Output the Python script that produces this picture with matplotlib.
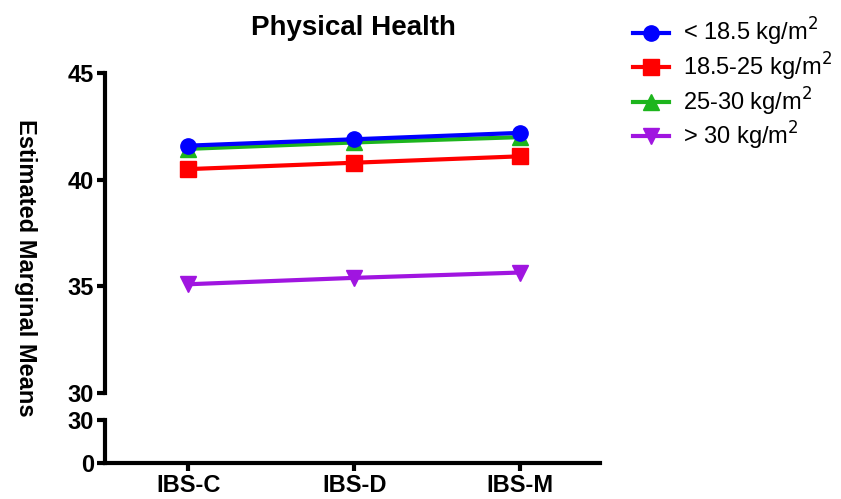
import matplotlib.pyplot as plt
import numpy as np

plt.rcParams['font.family'] = ['Liberation Sans', 'DejaVu Sans']

groups = ['IBS-C', 'IBS-D', 'IBS-M']
under185 = [41.6, 41.9, 42.2]
normal = [40.5, 40.8, 41.1]
over25 = [41.45, 41.75, 42.0]
over30 = [35.1, 35.4, 35.65]

labels = [r'< 18.5 kg/m$^2$', r'18.5-25 kg/m$^2$', r'25-30 kg/m$^2$', r'> 30 kg/m$^2$']
colors = ['#0000FF', '#FF0000', '#1DB51D', '#A015E0']
markers = ['o', 's', '^', 'v']
msizes = [11, 12, 12, 12]
series = [under185, normal, over25, over30]
zorders = [6, 4, 5, 3]

fig = plt.figure(figsize=(8.41, 4.99), dpi=100)
ax = fig.add_axes([0.1249, 0.2124, 0.5886, 0.641])
ax2 = fig.add_axes([0.1249, 0.0721, 0.5886, 0.0862])

x = np.arange(len(groups))
handles = []
for vals, lab, c, m, ms, z in zip(series, labels, colors, markers, msizes, zorders):
    h, = ax.plot(x, vals, color=c, marker=m, markersize=ms, lw=3, label=lab, zorder=z,
                 clip_on=False)
    handles.append(h)

for a in (ax, ax2):
    a.set_xlim(-0.5, 2.48)
    a.spines['top'].set_visible(False)
    a.spines['right'].set_visible(False)
    a.spines['left'].set_linewidth(3)
    a.spines['bottom'].set_linewidth(3)
    a.tick_params(width=3, length=6, labelsize=17, direction='out', pad=2)

ax.set_ylim(30, 45)
ax.set_yticks([30, 35, 40, 45])
ax.spines['bottom'].set_visible(False)
ax.set_xticks([])
for t in ax.get_yticklabels():
    t.set_fontweight('bold')

ax2.set_ylim(0, 30)
ax2.set_yticks([0, 30])
ax2.set_xticks(x)
ax2.set_xticklabels(groups)
for t in ax2.get_yticklabels() + ax2.get_xticklabels():
    t.set_fontweight('bold')

fig.text(0.42, 0.944, 'Physical Health', ha='center', va='center', fontsize=20, fontweight='bold')
fig.text(0.03, 0.463, 'Estimated Marginal Means', rotation=270, ha='center', va='center',
         fontsize=17, fontweight='bold')

fig.legend(handles=handles, loc='upper left', bbox_to_anchor=(0.728, 1.01), frameon=False,
           fontsize=17, handlelength=1.5, labelspacing=0.1, handletextpad=0.6)

fig.savefig('out.png', dpi=100)
